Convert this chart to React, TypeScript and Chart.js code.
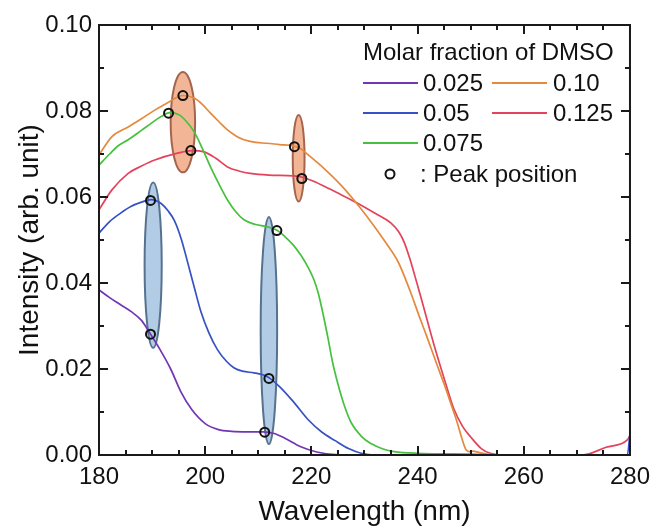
import React, { useEffect, useRef } from "react";
import { Chart, registerables } from "chart.js";

Chart.register(...registerables);

const FONT = "'Liberation Sans', Arial, Helvetica, sans-serif";

// ---- Data ----
const wl025 = [180, 182, 184, 186, 188, 189.6, 191.5, 193.5, 195.5, 197.5, 200, 202.5, 205, 208, 211, 213, 215, 218, 221, 224.5, 230, 240, 250, 260, 270, 280];
const int025 = [0.0384, 0.0366, 0.0350, 0.0334, 0.0313, 0.0283, 0.0245, 0.0200, 0.0145, 0.0105, 0.0073, 0.0059, 0.0055, 0.0054, 0.0054, 0.005, 0.0039, 0.0019, 0.0007, 0.0001, 0, 0, 0, 0, 0, 0];

const wl05 = [180, 182, 184, 186, 188, 189.8, 191.7, 193, 194.2, 195.5, 196.7, 198, 199.2, 200.7, 202.3, 204, 205.4, 207, 209.2, 211, 212, 214, 216.6, 219.4, 222, 224.4, 227, 229.4, 232, 240, 250, 260, 270, 279.5, 280];
const int05 = [0.0516, 0.0543, 0.0562, 0.0578, 0.0588, 0.0594, 0.0585, 0.0568, 0.0545, 0.0502, 0.0448, 0.0387, 0.0333, 0.0284, 0.0245, 0.0218, 0.0203, 0.0195, 0.0191, 0.0186, 0.018, 0.0159, 0.0124, 0.0082, 0.0053, 0.0034, 0.0015, 0.0004, 0, 0, 0, 0, 0, 0, 0.005];

const wl075 = [180, 182, 183.5, 185.5, 188, 190, 191.7, 193.3, 195.1, 196.5, 197.9, 199.5, 201, 202.6, 204.2, 205.8, 207.3, 209.5, 211.6, 213.6, 215, 216.6, 218, 219.4, 220.5, 221.3, 222.3, 223.2, 224, 225, 226.2, 227.5, 229.5, 231.3, 233.5, 235.6, 240, 250, 260, 280];
const int075 = [0.0674, 0.07, 0.0718, 0.0733, 0.0755, 0.0773, 0.0787, 0.0796, 0.0791, 0.0775, 0.0752, 0.0712, 0.067, 0.063, 0.0593, 0.0565, 0.0547, 0.0536, 0.0531, 0.0522, 0.0508, 0.0488, 0.0465, 0.0436, 0.0407, 0.0376, 0.0322, 0.0267, 0.0215, 0.0165, 0.0115, 0.0075, 0.0042, 0.0026, 0.0014, 0.0008, 0.0004, 0.0002, 0, 0];

const wl10 = [180, 182.4, 185.5, 188, 190.5, 193, 195.8, 197.9, 199.5, 201, 202.6, 204.2, 205.8, 207.3, 209.5, 211.6, 214, 216.6, 218, 219.4, 222.5, 225.7, 229, 231.9, 234, 236.3, 238.7, 240.3, 241.9, 243.5, 245, 246.3, 247.5, 248.3, 249, 249.7, 250.5, 251.5, 253, 255, 280];
const int10 = [0.0698, 0.074, 0.0763, 0.0782, 0.0802, 0.082, 0.0836, 0.083, 0.0815, 0.0795, 0.0775, 0.0756, 0.0742, 0.0733, 0.0727, 0.0725, 0.0722, 0.0719, 0.0712, 0.0698, 0.0665, 0.0626, 0.0578, 0.0531, 0.0494, 0.045, 0.0378, 0.0323, 0.027, 0.0215, 0.0165, 0.0118, 0.0074, 0.004, 0.0015, 0.0008, 0.0009, 0.0006, 0.0002, 0, 0];

const wl125 = [180, 182.4, 185.5, 188, 190.5, 194.8, 197.5, 199.8, 202, 204.2, 206.5, 208.5, 212, 216.6, 218.3, 220.5, 222.6, 225.5, 228.8, 232, 235, 236.5, 237.5, 238.5, 239.5, 240.6, 243.1, 245, 246.8, 248.5, 250, 252, 253.7, 256, 271, 275.5, 279.5, 280];
const int125 = [0.057, 0.0616, 0.0655, 0.0672, 0.0686, 0.0702, 0.0708, 0.0705, 0.069, 0.067, 0.066, 0.0655, 0.0651, 0.0649, 0.0646, 0.0636, 0.0624, 0.0606, 0.0585, 0.0562, 0.0539, 0.0518, 0.0494, 0.0458, 0.0416, 0.0368, 0.0256, 0.0178, 0.0108, 0.0066, 0.0042, 0.0015, 0.0004, 0, 0, 0.0018, 0.0035, 0.0045];

const seriesLabels = ["0.025", "0.05", "0.075", "0.10", "0.125"];
const seriesColors = ["#7236b5", "#3651c6", "#46c13e", "#e4893d", "#e3435b"];

const peakX = [189.7, 211.2, 189.7, 212.0, 193.1, 213.5, 195.8, 216.8, 197.3, 218.2];
const peakY = [0.0281, 0.0053, 0.0592, 0.0178, 0.0795, 0.0522, 0.0836, 0.0717, 0.0708, 0.0643];

// highlight ellipses: center wavelength, half-width (nm), y bottom, y top
const ellCx = [190.2, 212.0, 195.8, 217.6];
const ellHw = [1.8, 1.74, 2.49, 1.3];
const ellYlo = [0.0247, 0.0023, 0.0655, 0.0587];
const ellYhi = [0.0636, 0.0556, 0.0893, 0.0793];
const ellKind = ["blue", "blue", "orange", "orange"];

const xTicks = [180, 200, 220, 240, 260, 280];
const yTicks = [0, 0.02, 0.04, 0.06, 0.08, 0.1];
const xMinorStep = 5;
const yMinorStep = 0.01;

const legendTitle = "Molar fraction of DMSO";
const peakLabel = ": Peak position";

const toXY = (xs: number[], ys: number[]) => xs.map((x, i) => ({ x, y: ys[i] }));

const decorPlugin = {
  id: "decor",
  beforeDatasetsDraw(chart: any) {
    const { ctx } = chart;
    const xs = chart.scales.x;
    const ys = chart.scales.y;
    ctx.save();
    for (let i = 0; i < ellCx.length; i++) {
      const cx = xs.getPixelForValue(ellCx[i]);
      const rx = xs.getPixelForValue(ellCx[i] + ellHw[i]) - cx - 1;
      const yTop = ys.getPixelForValue(ellYhi[i]);
      const yBot = ys.getPixelForValue(ellYlo[i]);
      const cy = (yTop + yBot) / 2;
      const ry = (yBot - yTop) / 2 - 1;
      ctx.beginPath();
      ctx.ellipse(cx, cy, rx, ry, 0, 0, Math.PI * 2);
      if (ellKind[i] === "blue") {
        ctx.fillStyle = "#b2cce6";
        ctx.strokeStyle = "#56728f";
      } else {
        ctx.fillStyle = "#f2b697";
        ctx.strokeStyle = "#a5654c";
      }
      ctx.lineWidth = 2;
      ctx.fill();
      ctx.stroke();
    }
    ctx.restore();
  },
  afterDraw(chart: any) {
    const { ctx, chartArea } = chart;
    const { left, right, top, bottom } = chartArea;
    const xs = chart.scales.x;
    const ys = chart.scales.y;
    ctx.save();
    ctx.strokeStyle = "#1a1a1a";
    ctx.lineWidth = 2;
    ctx.strokeRect(left, top, right - left, bottom - top);
    ctx.beginPath();
    const nx = Math.round((xs.max - xs.min) / xMinorStep);
    for (let k = 0; k <= nx; k++) {
      const v = xs.min + k * xMinorStep;
      const px = Math.round(xs.getPixelForValue(v));
      const len = k % 4 === 0 ? 9 : 5;
      ctx.moveTo(px, bottom);
      ctx.lineTo(px, bottom - len);
      ctx.moveTo(px, top);
      ctx.lineTo(px, top + len);
    }
    const ny = Math.round((ys.max - ys.min) / yMinorStep);
    for (let k = 0; k <= ny; k++) {
      const v = ys.min + k * yMinorStep;
      const py = Math.round(ys.getPixelForValue(v));
      const len = k % 2 === 0 ? 9 : 5;
      ctx.moveTo(left, py);
      ctx.lineTo(left + len, py);
      ctx.moveTo(right, py);
      ctx.lineTo(right - len, py);
    }
    ctx.stroke();

    // legend
    ctx.fillStyle = "#111";
    ctx.font = `24px ${FONT}`;
    ctx.textBaseline = "middle";
    ctx.textAlign = "left";
    ctx.fillText(legendTitle, 363, 53);
    const rowsY = [83, 113, 143];
    const cols = [
      { lx: 363, tx: 423 },
      { lx: 492, tx: 553 },
    ];
    const placement = [
      [0, 0],
      [0, 1],
      [0, 2],
      [1, 0],
      [1, 1],
    ];
    for (let i = 0; i < seriesLabels.length; i++) {
      const [c, r] = placement[i];
      const y = rowsY[r];
      ctx.strokeStyle = seriesColors[i];
      ctx.lineWidth = 2;
      ctx.beginPath();
      ctx.moveTo(cols[c].lx, y);
      ctx.lineTo(cols[c].lx + 55, y);
      ctx.stroke();
      ctx.fillStyle = "#111";
      ctx.fillText(seriesLabels[i], cols[c].tx, y + 1);
    }
    ctx.strokeStyle = "#111";
    ctx.lineWidth = 2;
    ctx.beginPath();
    ctx.arc(390, 174, 4.5, 0, Math.PI * 2);
    ctx.stroke();
    ctx.fillText(peakLabel, 420, 175);
    ctx.restore();
  },
};

export default function App() {
  const canvasRef = useRef<HTMLCanvasElement | null>(null);

  useEffect(() => {
    document.body.style.margin = "0";
    const canvas = canvasRef.current;
    if (!canvas) return;
    const lineSets = [
      toXY(wl025, int025),
      toXY(wl05, int05),
      toXY(wl075, int075),
      toXY(wl10, int10),
      toXY(wl125, int125),
    ].map((data, i) => ({
      type: "line" as const,
      label: seriesLabels[i],
      data,
      borderColor: seriesColors[i],
      backgroundColor: seriesColors[i],
      borderWidth: 1.7,
      pointRadius: 0,
      fill: false,
      cubicInterpolationMode: "monotone" as const,
      order: 1,
    }));
    const chart = new Chart(canvas, {
      type: "line",
      data: {
        datasets: [
          {
            type: "scatter" as const,
            label: "Peak position",
            data: toXY(peakX, peakY),
            pointStyle: "circle",
            pointRadius: 4.5,
            pointBorderWidth: 2,
            borderColor: "#111",
            backgroundColor: "rgba(0,0,0,0)",
            showLine: false,
            order: 0,
          } as any,
          ...lineSets,
        ],
      },
      options: {
        responsive: false,
        animation: false,
        devicePixelRatio: 1,
        layout: { padding: { left: 0, top: 25, right: 24, bottom: 0 } },
        plugins: {
          legend: { display: false },
          tooltip: { enabled: false },
        },
        scales: {
          x: {
            type: "linear",
            min: 180,
            max: 280,
            afterBuildTicks: (s: any) => {
              s.ticks = xTicks.map((v) => ({ value: v }));
            },
            afterFit: (s: any) => {
              s.height = 74;
            },
            grid: { display: false, drawTicks: false },
            border: { display: false },
            ticks: {
              padding: 8,
              color: "#111",
              font: { family: FONT, size: 24 },
              maxRotation: 0,
              callback: (v: any) => String(v),
            },
            title: {
              display: true,
              text: "Wavelength (nm)",
              color: "#111",
              font: { family: FONT, size: 28 },
              padding: { top: 0, bottom: 0 },
            },
          },
          y: {
            type: "linear",
            min: 0,
            max: 0.1,
            afterBuildTicks: (s: any) => {
              s.ticks = yTicks.map((v) => ({ value: v }));
            },
            afterFit: (s: any) => {
              s.width = 99;
            },
            grid: { display: false, drawTicks: false },
            border: { display: false },
            ticks: {
              padding: 7,
              color: "#111",
              font: { family: FONT, size: 24 },
              callback: (v: any) => Number(v).toFixed(2),
            },
            title: {
              display: true,
              text: "Intensity (arb. unit)",
              color: "#111",
              font: { family: FONT, size: 28 },
              padding: { top: 13, bottom: 0 },
            },
          },
        },
      },
      plugins: [decorPlugin],
    });
    return () => chart.destroy();
  }, []);

  return (
    <div style={{ width: 658, height: 529 }}>
      <canvas ref={canvasRef} width={658} height={529} style={{ display: "block" }} />
    </div>
  );
}
